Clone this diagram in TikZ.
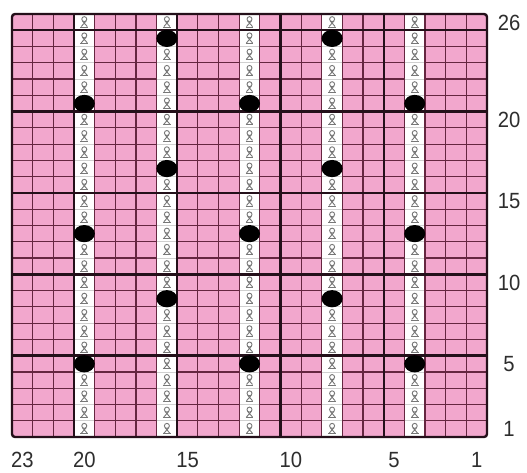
\documentclass[tikz,border=0pt]{standalone}
\usepackage{fontspec}
\newfontfamily\lblfont[FakeStretch=0.92]{Liberation Sans}
\definecolor{cellpink}{HTML}{F2A7CD}
\definecolor{thinline}{HTML}{652640}
\definecolor{thickline}{HTML}{24101A}
\definecolor{symgray}{HTML}{777777}
\definecolor{whiteline}{HTML}{D0D0D0}
\definecolor{lblcol}{HTML}{2E2E2E}
\tikzset{
  twist/.pic={
    \draw[symgray,line width=0.9pt] (0,-3.0) circle (2.5);
    \draw[symgray,line width=0.9pt] (-1.8,-1.1) -- (3.0,4.4) (1.8,-1.1) -- (-3.0,4.4);
    \draw[symgray,line width=0.9pt] (-3.9,5.0) -- (3.9,5.0);
  },
  lbl/.style={font=\lblfont\fontsize{22}{24}\selectfont, text=lblcol, inner sep=0pt, text height=15.8pt, text depth=0pt, anchor=center},
  thinrule/.style={draw=thinline, line width=1.2pt},
  thickrule/.style={draw=thickline, line width=2.4pt},
  bobble/.style={fill=black}
}
\begin{document}
\begin{tikzpicture}[x=1pt,y=-1pt]
\pgfmathsetmacro{\w}{475/23}
\pgfmathsetmacro{\h}{423/26}
\useasboundingbox (0,0) rectangle (527,473);
\fill[white] (0,0) rectangle (527,473);
% pink ground
\fill[cellpink] (12,14) rectangle (487,437);
% thin horizontal rules
\foreach \j in {1,...,25} \draw[thinrule] (12,{14+\j*\h}) -- (487,{14+\j*\h});
% white stitch columns
\foreach \c in {20,16,12,8,4} {
  \fill[white] ({12+(23-\c)*\w},14) rectangle ({12+(24-\c)*\w},437);
  \foreach \j in {1,...,25} \draw[whiteline,line width=0.8pt] ({12+(23-\c)*\w},{14+\j*\h}) -- ({12+(24-\c)*\w},{14+\j*\h});
}
% thin vertical rules
\foreach \i in {1,...,22} \draw[thinrule] ({12+\i*\w},14) -- ({12+\i*\w},437);
% thick rules every 5
\foreach \c in {5,10,15,20} \draw[thickrule] ({487-\c*\w},14) -- ({487-\c*\w},437);
\foreach \r in {5,10,15,20,25} \draw[thickrule] (12,{437-\r*\h}) -- (487,{437-\r*\h});
% border
\draw[thickrule,rounded corners=3pt] (12,14) rectangle (487,437);
% twisted stitch symbols
\foreach \c in {20,16,12,8,4} {
  \foreach \r in {1,...,26} {
    \pic at ({12+(23.5-\c)*\w},{437-(\r-0.5)*\h}) {twist};
  }
}
% bobbles
\foreach \r in {25,17,9} {
  \foreach \c in {16,8} \fill[bobble] ({12+(23.5-\c)*\w},{437-(\r-0.5)*\h}) ellipse (10.5 and 8.6);
}
\foreach \r in {21,13,5} {
  \foreach \c in {20,12,4} \fill[bobble] ({12+(23.5-\c)*\w},{437-(\r-0.5)*\h}) ellipse (10.5 and 8.6);
}
% row numbers
\foreach \r in {26,20,15,10,5,1} \node[lbl] (row\r) at (509,{437-(\r-0.5)*\h}) {\r};
% column numbers
\foreach \c in {23,20,15,10,5,1} \node[lbl] (col\c) at ({12+(23.5-\c)*\w},460) {\c};
\end{tikzpicture}
\end{document}
